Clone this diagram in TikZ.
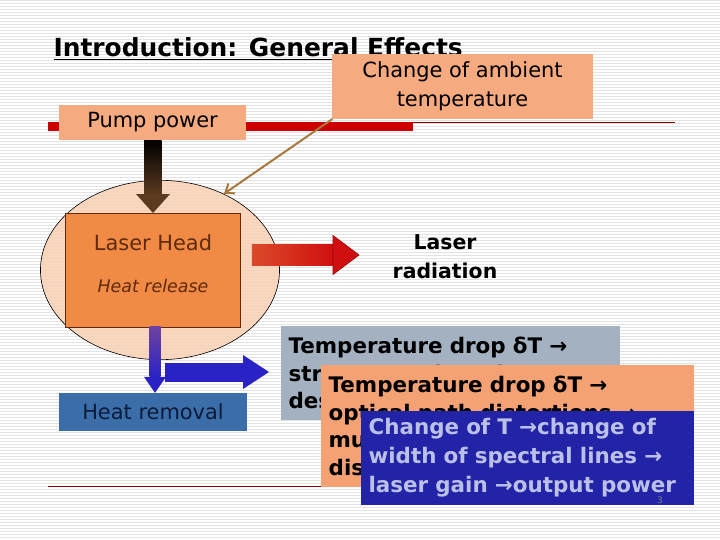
\documentclass[tikz,border=0pt]{standalone}
\usepackage{fontspec}
\setmainfont{DejaVu Sans}
\usetikzlibrary{arrows.meta,positioning,calc,shapes.geometric}
\definecolor{SlideSalmon}{HTML}{F5AA80}
\definecolor{SlidePeach}{HTML}{FAD0B4}
\definecolor{HeadOrange}{HTML}{F08A45}
\definecolor{HeadBrown}{HTML}{5E2A0C}
\definecolor{PumpBrown}{HTML}{5B3A1E}
\definecolor{SteelBlue}{HTML}{3B6EA8}
\definecolor{NavyText}{HTML}{0A1A3A}
\definecolor{StrainGray}{HTML}{A3B1C0}
\definecolor{OpticsOrange}{HTML}{F4A274}
\definecolor{GainBlue}{HTML}{2323A8}
\definecolor{GainText}{HTML}{BAC0E6}
\definecolor{CoolBlue}{HTML}{2B22C6}
\definecolor{CoolPurple}{HTML}{6E42A0}
\definecolor{BeamRed}{HTML}{D01010}
\definecolor{BeamOrange}{HTML}{DA4A2A}
\definecolor{WireTan}{HTML}{A8783C}
\definecolor{RuleRed}{HTML}{CC0000}
\tikzset{>=Stealth,every node/.style={font=\fontsize{21}{28}\selectfont},
 tag/.style={fill=SlideSalmon,align=center,inner sep=0pt,font=\fontsize{21}{29}\selectfont},
 note/.style={align=left,inner xsep=8pt,inner ysep=0pt,font=\bfseries\fontsize{21.5}{27.5}\selectfont}}
\begin{document}
\begin{tikzpicture}[x=1bp,y=-1bp]
\useasboundingbox (0,0) rectangle (720,540);
\fill[white] (0,0) rectangle (720,540);
\foreach \y in {0.5,3.5,...,540} \draw[black!11,line width=1bp] (0,\y)--(720,\y);
% title and rules
\node[anchor=base west,font=\bfseries\fontsize{25}{28}\selectfont] (title) at (50,57) {\underline{Introduction: General Effects}};
\fill[RuleRed] (48,122) rectangle (413,131);
\draw[RuleRed!70!black,line width=0.8bp] (413,122.5)--(675,122.5);
\draw[RuleRed!70!black,line width=0.8bp] (48,486)--(675,486);
% causes
\node[tag,minimum width=187,minimum height=35] (pump) at (152.5,122.5) {Pump power};
\node[tag,minimum width=261,minimum height=65] (change) at (462.5,86.5) {Change of ambient\\temperature};
\node[ellipse,draw=black,line width=0.6bp,fill=SlidePeach,fill opacity=0.85,minimum width=240,
 minimum height=180,inner sep=0pt] (glow) at (160,270) {};
\draw[WireTan,line width=2bp,-{Straight Barb[length=8bp,width=12bp]}] (change.south west) -- (glow.50);
\node[draw=HeadBrown,fill=HeadOrange,text=HeadBrown,minimum width=176,minimum height=114,
 align=center,text depth=13pt] (head) at (153,270) {Laser Head\\[14pt]{\itshape\fontsize{17.5}{20}\selectfont Heat release}};
\node[fill=SteelBlue,text=NavyText,minimum width=188,minimum height=38,inner sep=0pt] (removal) at (153,412) {Heat removal};
% pump arrow
\shade[top color=black,bottom color=PumpBrown] ($(pump.south)+(-8.5,0)$) rectangle ($(head.north)+(8.5,-19)$);
\fill[PumpBrown] ($(head.north)+(-17,-19)$) -- ($(head.north)+(17,-19)$) -- (head.north) -- cycle;
% laser beam
\coordinate (beamtip) at (359,255);
\shade[left color=BeamOrange,right color=BeamRed] ($(head.east)+(11,-25)$) rectangle ($(beamtip)+(-26,10)$);
\filldraw[fill=BeamRed,draw=BeamRed!70!black,line width=0.6bp] ($(beamtip)+(-26,-19.5)$) -- ($(beamtip)+(-26,19.5)$) -- (beamtip) -- cycle;
\node[align=center,font=\bfseries\fontsize{20.5}{29}\selectfont] (radiation) at (445,257) {Laser\\radiation};
% heat flow
\coordinate (drain) at ($(removal.north)+(2,0)$);
\shade[top color=CoolPurple,bottom color=CoolBlue] ($(drain |- head.south)+(-5.5,0)$) rectangle ($(drain)+(5.5,-16)$);
\fill[CoolBlue] ($(drain)+(-11,-16)$) -- ($(drain)+(11,-16)$) -- (drain) -- cycle;
\coordinate (cooltip) at (269,372);
\fill[CoolBlue] ($(cooltip)+(-104,-9.5)$) rectangle ($(cooltip)+(-26,9.5)$);
\fill[CoolBlue] ($(cooltip)+(-26,-17)$) -- ($(cooltip)+(-26,17)$) -- (cooltip) -- cycle;
% effects
\node[note,fill=StrainGray,minimum width=341,minimum height=94,text width=325] (strain) at (450.5,373)
 {Temperature drop δT →\\stresses and strains →\\destruction};
\node[note,fill=OpticsOrange,minimum width=375,minimum height=122,text width=359] (optics) at (507.5,426)
 {Temperature drop δT →\\optical path distortions →\\multimode generation,\\distortion of the beam};
\node[note,fill=GainBlue,text=GainText,minimum width=335,minimum height=94,text width=319,
 font=\bfseries\fontsize{21.5}{29}\selectfont] (gain) at (527.5,458)
 {Change of T →change of\\width of spectral lines →\\laser gain →output power};
\node[font=\fontsize{9}{10}\selectfont,text=gray] (pageno) at (660,500) {3};
\end{tikzpicture}
\end{document}
